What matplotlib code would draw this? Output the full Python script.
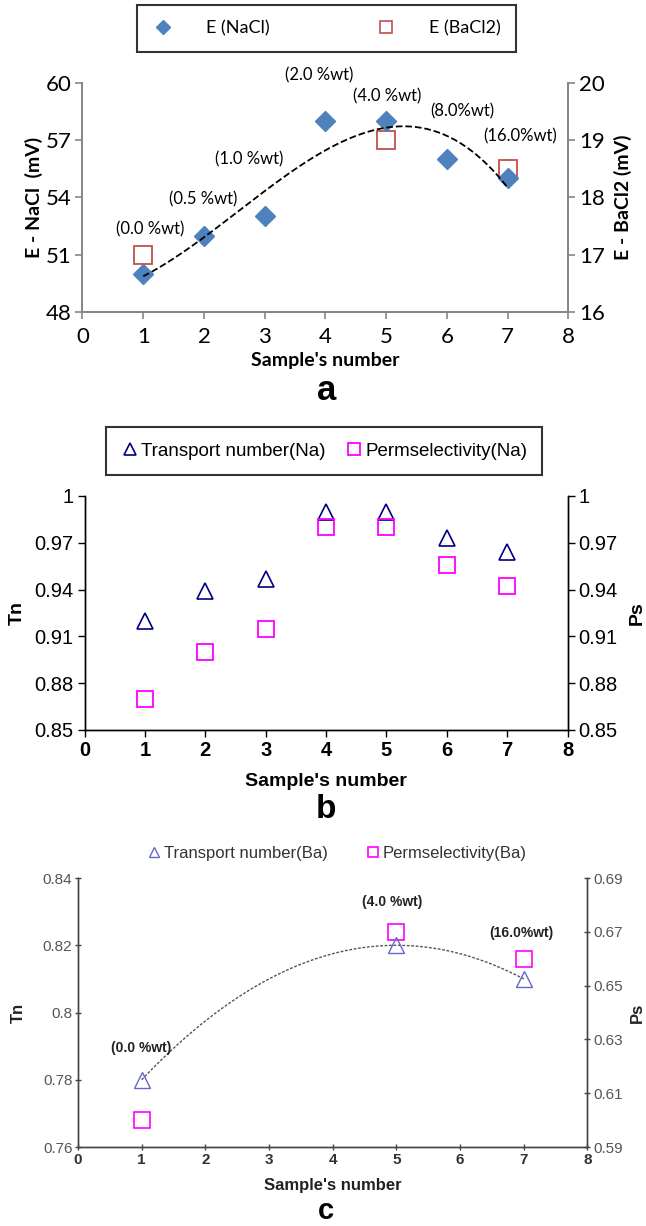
import numpy as np
import matplotlib
matplotlib.use('Agg')
import matplotlib.pyplot as plt
from matplotlib.lines import Line2D

# panel a
samples_a = np.array([1, 2, 3, 4, 5, 6, 7])
e_nacl = np.array([50, 52, 53, 58, 58, 56, 55])
samples_ba = np.array([1, 5, 7])
e_bacl2 = np.array([17.0, 19.0, 18.5])
labels_a = ['(0.0 %wt)', '(0.5 %wt)', '(1.0 %wt)', '(2.0 %wt)', '(4.0 %wt)', '(8.0%wt)', '(16.0%wt)']
label_pos_a = [(1.11, 52.3), (1.99, 53.9), (2.74, 56.0), (3.89, 60.4), (5.02, 59.3), (6.25, 58.5), (7.21, 57.2)]

# panel b
samples_b = np.array([1, 2, 3, 4, 5, 6, 7])
tn_na = np.array([0.920, 0.939, 0.947, 0.990, 0.990, 0.973, 0.964])
ps_na = np.array([0.870, 0.900, 0.915, 0.980, 0.980, 0.956, 0.942])

# panel c
samples_c = np.array([1, 5, 7])
tn_ba = np.array([0.78, 0.82, 0.81])
ps_ba = np.array([0.600, 0.670, 0.660])
labels_c = ['(0.0 %wt)', '(4.0 %wt)', '(16.0%wt)']
label_pos_c = [(1.0, 0.7894), (4.93, 0.833), (6.97, 0.8236)]

fig = plt.figure(figsize=(6.46, 12.26), dpi=100)
grey = '#868686'

# ---------------- a ----------------
fa = 'Lato'
ax = fig.add_axes([0.1277, 0.7458, 0.752, 0.1863])
ax2 = ax.twinx()
ax2.plot(samples_ba, e_bacl2, 's', ms=13, mfc='none', mec='#C0504D', mew=1.3, zorder=2)
ax2.set_ylim(16, 20)
ax2.set_yticks([16, 17, 18, 19, 20])
ax.set_zorder(ax2.get_zorder() + 1)
ax.patch.set_visible(False)
ax.plot(samples_a, e_nacl, 'D', ms=10, color='#4F81BD', zorder=3)
coef = np.polyfit(samples_a, e_nacl, 3)
xs = np.linspace(1, 7, 200)
ax.plot(xs, np.polyval(coef, xs), '--', color='black', lw=1.3, zorder=4)
ax.set_xlim(0, 8)
ax.set_ylim(48, 60)
ax.set_yticks([48, 51, 54, 57, 60])
ax.set_xticks(range(9))
for t, (x, y) in zip(labels_a, label_pos_a):
    ax.text(x, y, t, ha='center', va='center', fontsize=12, family=fa, clip_on=False)
for a in (ax, ax2):
    for s in a.spines.values():
        s.set_color(grey)
        s.set_linewidth(1.3)
    a.spines['top'].set_visible(False)
    a.tick_params(colors=grey, labelcolor='black', labelsize=16, width=1.2, length=5, pad=3)
    for lab in a.get_xticklabels() + a.get_yticklabels():
        lab.set_family(fa)
ax.tick_params(axis='x', pad=6)
ax.set_xlabel("Sample's number", fontsize=14, fontweight='bold', family=fa, labelpad=4)
ax.set_ylabel('E - NaCl  (mV)', fontsize=14, fontweight='bold', family=fa, labelpad=2)
ax2.set_ylabel('E - BaCl2 (mV)', fontsize=14, fontweight='bold', family=fa, labelpad=6)
fig.text(0.505, 1 - 391 / 1226, 'a', ha='center', va='center', fontsize=25, fontweight='bold',
         family='Liberation Sans')
h = [Line2D([], [], ls='none', marker='D', ms=7, color='#4F81BD'),
     Line2D([], [], ls='none', marker='s', ms=8, mfc='none', mec='#C0504D', mew=1.2)]
leg = fig.legend(h, ['E (NaCl)', 'E (BaCl2)'], loc='center', bbox_to_anchor=(0.5054, 0.9768), ncol=2,
                 prop={'family': fa, 'size': 13}, frameon=True, fancybox=False, edgecolor='black',
                 handletextpad=1.8, columnspacing=5.8, borderpad=0.5, handlelength=1.2,
                 borderaxespad=0)
leg.get_frame().set_linewidth(1.5)
leg.get_frame().set_boxstyle('square', pad=0.35)

# ---------------- b ----------------
fb = 'Liberation Sans'
bx = fig.add_axes([0.131, 0.4046, 0.7475, 0.1909])
bx2 = bx.twinx()
bx.plot(samples_b, tn_na, '^', ms=12, mfc='none', mec='#000080', mew=1.2)
bx2.plot(samples_b, ps_na, 's', ms=11, mfc='none', mec='#FF00FF', mew=1.3)
for a in (bx, bx2):
    a.set_ylim(0.85, 1.0)
    a.set_yticks([0.85, 0.88, 0.91, 0.94, 0.97, 1.0])
    a.set_yticklabels(['0.85', '0.88', '0.91', '0.94', '0.97', '1'])
    for s in a.spines.values():
        s.set_color('black')
        s.set_linewidth(1.0)
    a.spines['top'].set_visible(False)
    a.tick_params(labelsize=14.5, width=1.0, length=5, pad=3)
    for lab in a.get_xticklabels() + a.get_yticklabels():
        lab.set_family(fb)
bx.set_xlim(0, 8)
bx.set_xticks(range(9))
for lab in bx.get_xticklabels():
    lab.set_fontweight('bold')
bx.set_xlabel("Sample's number", fontsize=14, fontweight='bold', family=fb, labelpad=9)
bx.set_ylabel('Tn', fontsize=14, fontweight='bold', family=fb, labelpad=6)
bx2.set_ylabel('Ps', fontsize=14, fontweight='bold', family=fb, labelpad=8)
fig.text(0.505, 1 - 809 / 1226, 'b', ha='center', va='center', fontsize=24, fontweight='bold', family=fb)
h = [Line2D([], [], ls='none', marker='^', ms=8, mfc='none', mec='#000080', mew=1.2),
     Line2D([], [], ls='none', marker='s', ms=8, mfc='none', mec='#FF00FF', mew=1.3)]
leg = fig.legend(h, ['Transport number(Na)', 'Permselectivity(Na)'], loc='center',
                 bbox_to_anchor=(0.5017, 0.6321), ncol=2, prop={'family': fb, 'size': 13.5},
                 frameon=True, fancybox=False, edgecolor='black', handletextpad=0.1,
                 columnspacing=1.0, handlelength=1.0, borderaxespad=0)
leg.get_frame().set_linewidth(1.5)
leg.get_frame().set_boxstyle('square', pad=0.4)

# ---------------- c ----------------
cx = fig.add_axes([0.1207, 0.0644, 0.7887, 0.2194])
cx2 = cx.twinx()
cx.plot(samples_c, tn_ba, '^', ms=11, mfc='none', mec='#6666CC', mew=1.0, zorder=3)
cx2.plot(samples_c, ps_ba, 's', ms=11, mfc='none', mec='#FF00FF', mew=1.2)
cx.set_zorder(cx2.get_zorder() + 1)
cx.patch.set_visible(False)
coef_c = np.polyfit(samples_c, tn_ba, 2)
xs = np.linspace(1, 7, 200)
cx.plot(xs, np.polyval(coef_c, xs), ls=(0, (2, 1.2)), color='#555555', lw=1.0, zorder=2)
cx.set_xlim(0, 8)
cx.set_xticks(range(9))
cx.set_ylim(0.76, 0.84)
cx.set_yticks([0.76, 0.78, 0.80, 0.82, 0.84])
cx.set_yticklabels(['0.76', '0.78', '0.8', '0.82', '0.84'])
cx2.set_ylim(0.59, 0.69)
cx2.set_yticks([0.59, 0.61, 0.63, 0.65, 0.67, 0.69])
for t, (x, y) in zip(labels_c, label_pos_c):
    cx.text(x, y, t, ha='center', va='center', fontsize=10, fontweight='bold', family=fb,
            color='#222222', clip_on=False)
for a in (cx, cx2):
    for s in a.spines.values():
        s.set_color('#444444')
        s.set_linewidth(1.0)
    a.spines['top'].set_visible(False)
    a.tick_params(colors='#444444', labelcolor='#555555', labelsize=11, width=1.0, length=4,
                  direction='inout', pad=2)
    for lab in a.get_xticklabels() + a.get_yticklabels():
        lab.set_family(fb)
for lab in cx.get_xticklabels():
    lab.set_fontweight('bold')
    lab.set_color('#333333')
cx.set_xlabel("Sample's number", fontsize=12, fontweight='bold', family=fb, color='#222222', labelpad=8)
cx.set_ylabel('Tn', fontsize=12, fontweight='bold', family=fb, color='#222222', labelpad=12)
cx2.set_ylabel('Ps', fontsize=12, fontweight='bold', family=fb, color='#222222', labelpad=5)
fig.text(0.505, 1 - 1211 / 1226, 'c', ha='center', va='center', fontsize=21, fontweight='bold',
         family=fb)
h = [Line2D([], [], ls='none', marker='^', ms=7, mfc='none', mec='#6666CC', mew=1.0),
     Line2D([], [], ls='none', marker='s', ms=7, mfc='none', mec='#FF00FF', mew=1.2)]
fig.legend(h, ['Transport number(Ba)', 'Permselectivity(Ba)'], loc='center',
           bbox_to_anchor=(0.52, 0.3042), ncol=2, prop={'family': fb, 'size': 12},
           frameon=False, handletextpad=0.1, columnspacing=2.2, handlelength=1.0, borderaxespad=0,
           labelcolor='#333333')

fig.savefig('out.png', dpi=100)
